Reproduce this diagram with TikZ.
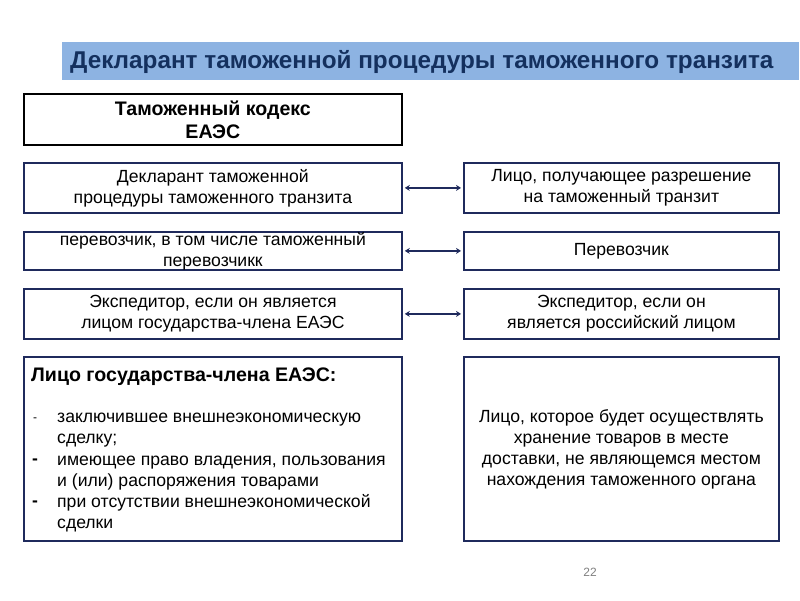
\documentclass[tikz,border=0pt]{standalone}
\usepackage{fontspec}
\setmainfont{Liberation Sans}
\usepackage{xcolor}
\definecolor{navy}{HTML}{1F2A5C}
\definecolor{titlebar}{HTML}{8DB3E2}
\definecolor{titletext}{HTML}{14305E}
\usetikzlibrary{arrows.meta}

\begin{document}
\begin{tikzpicture}[x=1pt,y=-1pt,
  box/.style={draw=navy, line width=1.8pt, inner sep=0pt, anchor=north west,
    align=center, font=\fontsize{17.6}{21}\selectfont},
  link/.style={navy, line width=1.8pt, {Stealth[length=5pt,width=6pt]}-{Stealth[length=5pt,width=6pt]},
    shorten >=2pt, shorten <=2pt},
  listline/.style={anchor=base west, inner sep=0pt, font=\fontsize{17.6}{21}\selectfont}]
\useasboundingbox (0,0) rectangle (800,600);

% title
\node[fill=titlebar, minimum width=737, minimum height=38, anchor=north west, inner sep=0pt] (bar) at (62,42) {};
\node[anchor=west, inner sep=0pt, text=titletext, font=\fontsize{24.3}{28}\selectfont\bfseries] (title) at (70,62)
  {Декларант таможенной процедуры таможенного транзита};

% code
\node[box, draw=black, minimum width=378, minimum height=51, font=\fontsize{19.6}{23}\selectfont\bfseries] (code) at (23,93)
  {Таможенный кодекс\\ЕАЭС};

% left column
\node[box, minimum width=378, minimum height=50] (decl) at (23,162)
  {Декларант таможенной\\процедуры таможенного транзита};
\node[box, minimum width=378, minimum height=38] (carr) at (23,231)
  {перевозчик, в том числе таможенный\\перевозчикк};
\node[box, minimum width=378, minimum height=50] (forw) at (23,288)
  {Экспедитор, если он является\\лицом государства-члена ЕАЭС};
\node[box, minimum width=378, minimum height=184] (memb) at (23,356) {};

% right column
\node[box, minimum width=315, minimum height=50] (perm) at (463,162)
  {Лицо, получающее разрешение\\на таможенный транзит};
\node[box, minimum width=315, minimum height=38] (carr2) at (463,231)
  {Перевозчик};
\node[box, minimum width=315, minimum height=50] (forw2) at (463,288)
  {Экспедитор, если он\\является российский лицом};
\node[box, minimum width=315, minimum height=184] (stor) at (463,356)
  {Лицо, которое будет осуществлять\\хранение товаров в месте\\доставки, не являющемся местом\\нахождения таможенного органа};

% member list
\node[anchor=base west, inner sep=0pt, font=\fontsize{19.6}{23}\selectfont\bfseries] (head) at (31,381)
  {Лицо государства-члена ЕАЭС:};
\foreach \y/\t [count=\i] in {422/заключившее внешнеэкономическую, 443/сделку;,
    465/{имеющее право владения, пользования}, 486/и (или) распоряжения товарами,
    507/при отсутствии внешнеэкономической, 528/сделки}
  \node[listline] (line\i) at (57,\y) {\t};
\node[listline, font=\fontsize{12}{14}\selectfont] (dash1) at (33,421) {-};
\foreach \y [count=\i from 2] in {464,506}
  \node[listline, font=\fontsize{17.6}{21}\selectfont\bfseries] (dash\i) at (32,\y) {-};

% links
\draw[link] (decl.east) -- (perm.west);
\draw[link] (carr.east) -- (carr2.west);
\draw[link] (forw.east) -- (forw2.west);

\node[text=gray, font=\fontsize{12}{14}\selectfont] (page) at (590,572) {22};
\end{tikzpicture}
\end{document}
